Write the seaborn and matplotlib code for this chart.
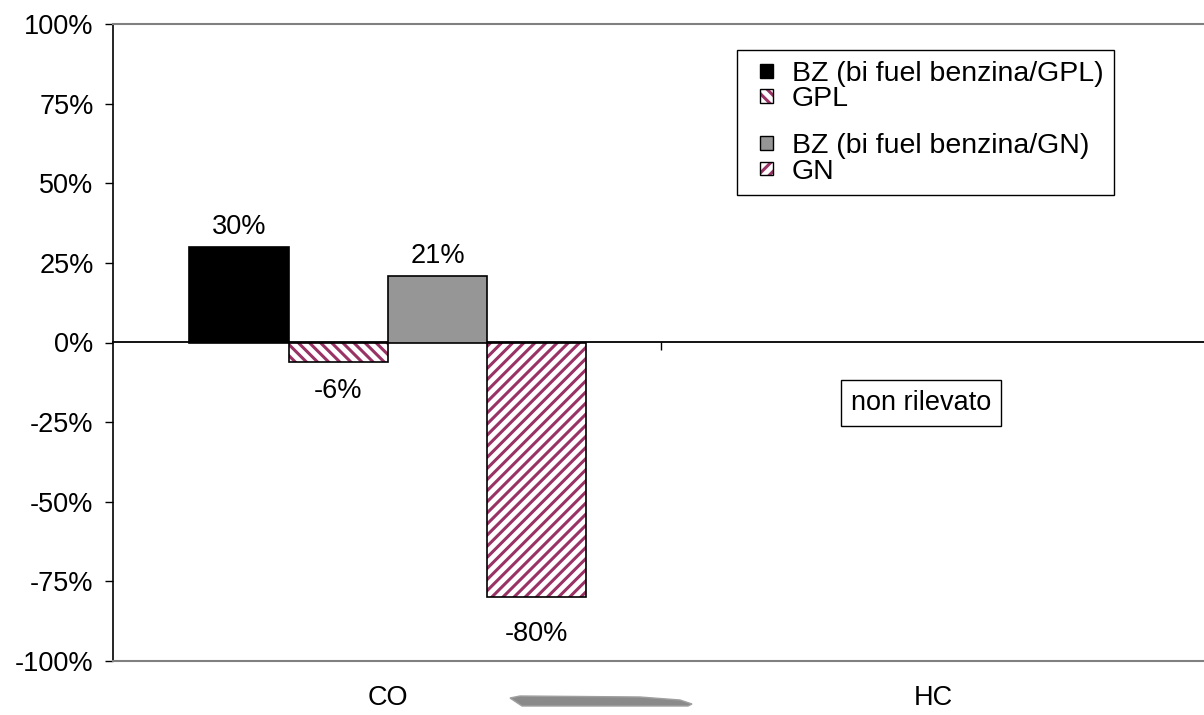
import numpy as np
import pandas as pd
import matplotlib
matplotlib.use("Agg")
import matplotlib.pyplot as plt
from matplotlib.patches import Patch, Rectangle, Polygon
from matplotlib.legend_handler import HandlerPatch, HandlerTuple
from matplotlib.ticker import FuncFormatter
import seaborn as sns

# --- data -------------------------------------------------------------
pollutants = ["CO", "HC"]
series = ["BZ (bi fuel benzina/GPL)", "GPL", "BZ (bi fuel benzina/GN)", "GN"]
co_values = [30, -6, 21, -80]          # % variation
hc_values = [np.nan] * 4               # non rilevato
y_ticks = [-100, -75, -50, -25, 0, 25, 50, 75, 100]

df = pd.DataFrame({
    "inquinante": [p for p in pollutants for _ in series],
    "alimentazione": series * len(pollutants),
    "variazione": co_values + hc_values,
})

# --- style ------------------------------------------------------------
sns.set_theme(style="white")
plt.rcParams["font.family"] = ["Liberation Sans", "DejaVu Sans"]
plt.rcParams["text.color"] = "black"
plt.rcParams["xtick.color"] = "black"
plt.rcParams["ytick.color"] = "black"
plt.rcParams["xtick.labelcolor"] = "black"
plt.rcParams["ytick.labelcolor"] = "black"
plt.rcParams["hatch.linewidth"] = 2.2

maroon = "#993366"
face = {series[0]: "#000000", series[1]: "#ffffff",
        series[2]: "#969696", series[3]: "#ffffff"}
hatches = {series[1]: "\\\\\\", series[3]: "///"}
label_pad = {series[0]: 5, series[1]: 12, series[2]: 5, series[3]: 17}
fs = 19.5

fig = plt.figure(figsize=(12.04, 7.15), dpi=100)
ax = fig.add_axes([113 / 1204, 1 - 661 / 715, (1206 - 113) / 1204, (661 - 24) / 715])

sns.barplot(data=df, x="inquinante", y="variazione", hue="alimentazione",
            order=pollutants, hue_order=series, palette=face,
            width=0.728, gap=0, errorbar=None, edgecolor="black",
            linewidth=1.2, saturation=1, legend=False, ax=ax)

# hatched bars: maroon stripes, black outline on top
for name, cont in zip(series, ax.containers):
    if name in hatches:
        for p in cont.patches:
            if not np.isfinite(p.get_height()):
                continue
            p.set_facecolor("white")
            p.set_hatch(hatches[name])
            p.set_edgecolor(maroon)
            p.set_linewidth(0)
            ax.add_patch(Rectangle(p.get_xy(), p.get_width(), p.get_height(),
                                   fill=False, edgecolor="black", lw=1.2, zorder=p.get_zorder() + 0.1))
    labels = [f"{v:.0f}%" if np.isfinite(v) else "" for v in cont.datavalues]
    ax.bar_label(cont, labels=labels, padding=label_pad[name], fontsize=fs, color="black")

# axes limits and ticks
ax.set_ylim(-100, 100)
ax.set_xlim(-0.504, 1.5)
ax.set_yticks(y_ticks)
ax.yaxis.set_major_formatter(FuncFormatter(lambda v, _: f"{v:.0f}%"))
ax.tick_params(axis="y", which="major", left=True, direction="out", length=6,
               width=1, color="black", labelsize=fs, pad=8, labelcolor="black")
ax.tick_params(axis="x", which="major", bottom=True, length=0, labelsize=fs, pad=17,
               labelcolor="black")
ax.set_xlabel("")
ax.set_ylabel("")

for side in ["top", "bottom"]:
    ax.spines[side].set_color("#808080")
    ax.spines[side].set_linewidth(1.5)
ax.spines["right"].set_visible(False)
ax.spines["left"].set_color("black")
ax.spines["left"].set_linewidth(1.2)

# zero line with category separator tick
zero_axis = ax.secondary_xaxis(0.5)
zero_axis.set_xticks([0.5, 1.5])
zero_axis.set_xticklabels(["", ""])
zero_axis.tick_params(direction="in", length=6, width=1, color="black")
for sp in zero_axis.spines.values():
    sp.set_color("black")
    sp.set_linewidth(1.3)

# note for the pollutant without data
ax.text(0.978, -19, "non rilevato", ha="center", va="center", fontsize=fs, color="black",
        bbox=dict(boxstyle="square,pad=0.36", fc="white", ec="black", lw=1))


# legend with small square keys on the right of each key slot
def square_key(legend, orig_handle, xdescent, ydescent, width, height, fontsize):
    s = 10.0
    return Rectangle((-xdescent + width - s, -ydescent + (height - s) / 2), s, s)


handles = []
for name in series:
    if name in hatches:
        handles.append((Patch(facecolor="white", hatch=hatches[name], edgecolor=maroon, lw=0),
                        Patch(fill=False, edgecolor="black", lw=1)))
    else:
        handles.append(Patch(facecolor=face[name], edgecolor="black", lw=1))
labels = list(series)
# short empty row separating the two pairs
handles.insert(2, Patch(fill=False, edgecolor="none", lw=0))
labels.insert(2, "")

leg = ax.legend(handles, labels, loc="upper left",
                bbox_to_anchor=((737 - 113) / 1093, (661 - 50) / 637),
                borderaxespad=0, fontsize=20.5, frameon=True, fancybox=False,
                framealpha=1, edgecolor="black", borderpad=0.38,
                labelspacing=-0.03, handlelength=0.9, handleheight=0.5,
                handletextpad=0.64,
                handler_map={Patch: HandlerPatch(patch_func=square_key),
                             tuple: HandlerTuple(ndivide=1, pad=0)})
leg.get_frame().set_linewidth(1)
for t in leg.get_texts():
    t.set_color("black")
leg.get_texts()[2].set_fontsize(17)

# smudged label under the axis (pixel coordinates, origin bottom-left)
H = 715
smudge = [(510, 698), (520, 696), (640, 697), (680, 700), (692, 704), (688, 706), (522, 706)]
fig.patches.append(Polygon(
    [(x, H - y) for x, y in smudge],
    closed=True, transform=None, facecolor="#8a8a8a", edgecolor="#a0a0a0", lw=1,
    figure=fig))

fig.savefig("out.png", dpi=100)
